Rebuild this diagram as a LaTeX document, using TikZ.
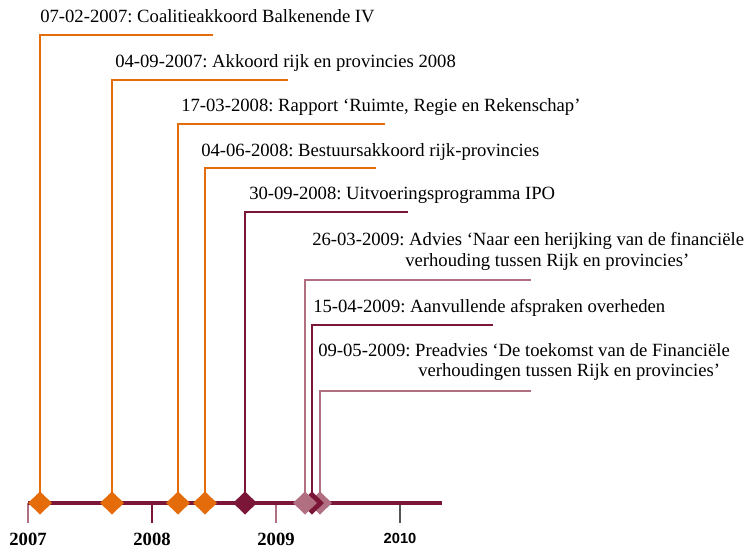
\documentclass[tikz,border=0pt]{standalone}
\usepackage{fontspec}
\setmainfont{Liberation Serif}
\newfontfamily\arialfont{Liberation Sans}
\usetikzlibrary{shapes.geometric}
\definecolor{evorange}{HTML}{E46C0A}
\definecolor{evmaroon}{HTML}{7B1638}
\definecolor{evmauve}{HTML}{B07082}
\definecolor{tickgray}{HTML}{555555}
\begin{document}
\frenchspacing
\begin{tikzpicture}[x=0.75pt,y=-0.75pt,
  evline/.style={line width=1.5pt},
  evlabel/.style={font=\fontsize{14}{16}\selectfont, anchor=base west, inner sep=0pt},
  gem/.style={diamond, minimum width=18pt, minimum height=17.5pt, inner sep=0pt, draw=none, fill=#1},
  yearlabel/.style={font=\bfseries\fontsize{14}{16}\selectfont, inner sep=0pt},
  yearsans/.style={font=\arialfont\bfseries\fontsize{11}{13}\selectfont, inner sep=0pt},
  ticka/.style={line width=1.1pt}]
\useasboundingbox (0,0) rectangle (749,548);

% timeline and ticks
\coordinate (tl0) at (28,503);
\coordinate (tl1) at (442,503);
\coordinate (k7) at (28,523);
\coordinate (k8) at (152,523);
\coordinate (k9) at (276,523);
\coordinate (k10) at (400,523);
\coordinate (k7t) at (28,503);
\coordinate (k8t) at (152,503);
\coordinate (k9t) at (276,503);
\coordinate (k10t) at (400,503);
\draw[ticka, evmauve] (k7t) -- (k7);
\draw[ticka, evmaroon] (k8t) -- (k8);
\draw[ticka, evmauve] (k9t) -- (k9);
\draw[ticka, tickgray] (k10t) -- (k10);
\draw[line width=2.4pt, evmaroon] (tl0) -- (tl1);

\node[yearlabel] (y7) at (28,539) {2007};
\node[yearlabel] (y8) at (152,539) {2008};
\node[yearlabel] (y9) at (276,539) {2009};
\node[yearsans] (y10) at (400,538) {2010};

% event anchor points on the timeline
\coordinate (c1) at (40,503);
\coordinate (c2) at (112,503);
\coordinate (c3) at (178,503);
\coordinate (c4) at (205,503);
\coordinate (c5) at (245,503);
\coordinate (c6) at (305,503);
\coordinate (c7) at (312,503);
\coordinate (c8) at (320,503);

% line end points
\coordinate (e1) at (213,35);
\coordinate (e2) at (288,80);
\coordinate (e3) at (385,124);
\coordinate (e4) at (376,168);
\coordinate (e5) at (408,212);
\coordinate (e6) at (531,280);
\coordinate (e7) at (493,325);
\coordinate (e8) at (531,391);

\draw[evline, evorange] (c1) |- (e1);
\draw[evline, evorange] (c2) |- (e2);
\draw[evline, evorange] (c3) |- (e3);
\draw[evline, evorange] (c4) |- (e4);
\draw[evline, evmaroon] (c5) |- (e5);
\draw[evline, evmauve] (c6) |- (e6);
\draw[evline, evmaroon] (c7) |- (e7);
\draw[evline, evmauve] (c8) |- (e8);

% diamonds
\node[gem=evorange] (g1) at (c1) {};
\node[gem=evorange] (g2) at (c2) {};
\node[gem=evorange] (g3) at (c3) {};
\node[gem=evorange] (g4) at (c4) {};
\node[gem=evmaroon] (g5) at (c5) {};
\node[gem=evmauve] (g8) at (c8) {};
\node[gem=evmaroon] (g7) at (c7) {};
\node[gem=evmauve] (g6) at (c6) {};

% labels
\node[evlabel] (t1) at (40,23) {07-02-2007: Coalitieakkoord Balkenende IV};
\node[evlabel] (t2) at (115,68) {04-09-2007: Akkoord rijk en provincies 2008};
\node[evlabel] (t3) at (181,112) {17-03-2008: Rapport ‘Ruimte, Regie en Rekenschap’};
\node[evlabel] (t4) at (201,157) {04-06-2008: Bestuursakkoord rijk-provincies};
\node[evlabel] (t5) at (249,200) {30-09-2008: Uitvoeringsprogramma IPO};
\node[evlabel] (t6a) at (312,246) {26-03-2009: Advies ‘Naar een herijking van de financiële};
\node[evlabel] (t6b) at (405,267) {verhouding tussen Rijk en provincies’};
\node[evlabel] (t7) at (313,313) {15-04-2009: Aanvullende afspraken overheden};
\node[evlabel] (t8a) at (318,357) {09-05-2009: Preadvies ‘De toekomst van de Financiële};
\node[evlabel] (t8b) at (418,377) {verhoudingen tussen Rijk en provincies’};
\end{tikzpicture}
\end{document}
